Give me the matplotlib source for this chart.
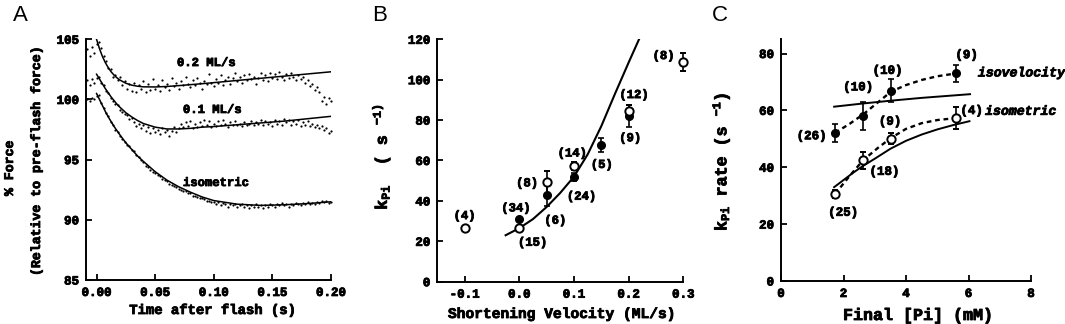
import numpy as np
import matplotlib
matplotlib.use('Agg')
import matplotlib.pyplot as plt
import matplotlib.patheffects as pe

plt.rcParams['font.family'] = ['Liberation Mono', 'DejaVu Sans Mono']
plt.rcParams['font.weight'] = 'bold'
plt.rcParams['axes.unicode_minus'] = False
plt.rcParams['mathtext.fontset'] = 'custom'
plt.rcParams['mathtext.rm'] = 'Liberation Mono:bold'
plt.rcParams['mathtext.it'] = 'Liberation Mono:bold'
plt.rcParams['mathtext.bf'] = 'Liberation Mono:bold'

# ---------------- Panel A data ----------------
t_trace = np.round(np.arange(-0.008, 0.2001, 0.002), 3)
force_02 = [104.2, 103.6, 104.4, 103.9, 104.6, 104.8, 104.3, 103.6, 103.2, 102.6,
            102.5, 101.9, 102.0, 101.6, 101.9, 101.2, 101.5, 100.9, 101.3, 100.7,
            101.4, 100.6, 101.2, 100.9, 101.5, 100.6, 101.3, 100.8, 101.7, 100.9,
            101.2, 100.7, 101.6, 101.0, 101.3, 100.8, 101.8, 101.1, 101.4, 100.9,
            101.5, 101.2, 101.9, 101.3, 101.0, 101.6, 101.2, 101.8, 101.4, 100.9,
            101.5, 101.3, 102.1, 101.4, 101.1, 101.7, 101.4, 102.0, 101.2, 101.6,
            101.9, 101.3, 101.8, 102.2, 101.5, 101.9, 101.4, 102.0, 101.6, 102.1,
            101.7, 101.9, 101.3, 101.8, 102.2, 101.6, 102.0, 101.5, 102.2, 101.8,
            102.1, 101.7, 102.3, 101.9, 101.6, 102.1, 101.8, 102.2, 101.9, 101.6,
            102.0, 101.7, 101.9, 101.4, 101.6, 101.1, 101.3, 100.8, 101.0, 100.6,
            99.9, 100.2, 99.6, 100.1, 99.9]
force_01 = [101.6, 101.2, 101.7, 101.4, 101.8, 101.9, 101.4, 101.2, 100.7, 100.5,
            100.1, 99.9, 99.6, 99.5, 99.1, 99.0, 98.8, 98.7, 98.4, 98.5,
            98.1, 97.8, 98.0, 97.6, 97.9, 97.4, 97.7, 97.2, 97.6, 97.3,
            97.5, 97.1, 97.6, 97.3, 97.5, 97.0, 97.4, 97.7, 97.3, 97.6,
            98.0, 97.7, 98.1, 97.8, 98.2, 97.6, 98.0, 97.7, 98.1, 97.8,
            98.3, 97.9, 98.2, 97.7, 98.0, 97.8, 98.2, 97.9, 98.3, 98.0,
            97.7, 98.1, 97.9, 98.2, 97.9, 98.0, 97.8, 98.1, 97.9, 98.0,
            98.2, 97.9, 98.1, 98.0, 98.3, 97.9, 98.2, 98.0, 98.1, 97.8,
            98.3, 98.0, 98.2, 97.9, 98.4, 98.1, 98.3, 97.9, 98.2, 98.0,
            98.3, 97.8, 98.1, 97.9, 98.2, 97.8, 98.0, 97.7, 97.9, 97.6,
            97.8, 97.5, 97.6, 97.2, 97.4]
force_iso = [100.0, 99.9, 100.1, 100.0, 100.3, 100.4, 99.7, 99.3, 98.9, 98.6,
             98.1, 97.9, 97.5, 97.3, 97.0, 96.7, 96.5, 96.2, 96.1, 95.8,
             95.7, 95.4, 95.2, 95.0, 94.8, 94.5, 94.4, 94.1, 94.0, 93.9,
             93.7, 93.6, 93.4, 93.3, 93.2, 93.0, 92.9, 92.8, 92.7, 92.6,
             92.5, 92.4, 92.4, 92.2, 92.2, 92.0, 92.0, 91.9, 91.8, 91.8,
             91.7, 91.6, 91.6, 91.5, 91.5, 91.3, 91.5, 91.2, 91.4, 91.3,
             91.1, 91.3, 91.2, 91.3, 91.1, 91.2, 91.3, 91.1, 91.2, 91.0,
             91.2, 91.1, 91.3, 91.1, 91.2, 91.0, 91.2, 91.1, 91.3, 91.2,
             91.1, 91.3, 91.2, 91.4, 91.2, 91.3, 91.1, 91.3, 91.2, 91.4,
             91.3, 91.2, 91.4, 91.3, 91.5, 91.3, 91.4, 91.3, 91.5, 91.4,
             91.6, 91.5, 91.6, 91.4, 91.5]

fit_t = [0.0, 0.0025, 0.005, 0.0075, 0.01, 0.0125, 0.015, 0.0175, 0.02, 0.025,
         0.03, 0.035, 0.04, 0.05, 0.06, 0.07, 0.08, 0.09, 0.10, 0.12,
         0.14, 0.16, 0.18, 0.20]
fit_02 = [105.0, 104.22, 103.58, 103.06, 102.64, 102.29, 102.02, 101.79, 101.61, 101.35,
          101.19, 101.10, 101.05, 101.04, 101.08, 101.15, 101.23, 101.31, 101.40, 101.58,
          101.76, 101.94, 102.12, 102.30]
fit_01 = [102.1, 101.7, 101.3, 100.9, 100.55, 100.2, 99.9, 99.6, 99.35, 98.9,
          98.55, 98.25, 98.0, 97.7, 97.55, 97.55, 97.6, 97.7, 97.75, 97.9,
          98.05, 98.2, 98.4, 98.6]
fit_iso = [100.5, 100.0, 99.5, 99.0, 98.55, 98.15, 97.75, 97.4, 97.05, 96.4,
           95.85, 95.3, 94.85, 94.0, 93.3, 92.75, 92.3, 91.9, 91.6, 91.3,
           91.2, 91.25, 91.35, 91.5]

# ---------------- Panel B data ----------------
vel_open = [-0.1, 0.0, 0.05, 0.1, 0.2, 0.3]
k_open = [26.7, 26.5, 49.2, 57.3, 84.5, 108.9]
err_open = [0.0, 1.0, 5.6, 2.2, 3.0, 4.4]
vel_fill = [0.0, 0.05, 0.1, 0.15, 0.2]
k_fill = [30.9, 42.9, 51.8, 67.8, 82.2]
err_fill = [0.8, 5.4, 2.0, 3.4, 5.5]
curve_vel = [-0.025, 0.0, 0.025, 0.05, 0.075, 0.1, 0.125, 0.15, 0.175, 0.2, 0.219]
curve_k = [23.0, 26.5, 31.0, 37.0, 44.0, 52.0, 63.0, 77.0, 93.0, 108.5, 120.0]
b_labels = ['(4)', '(34)', '(15)', '(8)', '(6)', '(14)', '(24)', '(5)', '(12)', '(9)', '(8)']
b_lab_x = [-0.1, -0.006, 0.0245, 0.0144, 0.066, 0.097, 0.114, 0.151, 0.21, 0.203, 0.264]
b_lab_y = [32.5, 36.3, 19.3, 48.7, 30.2, 63.5, 42.1, 57.8, 92.4, 71.0, 111.7]

# ---------------- Panel C data ----------------
pi_pts = [1.73, 2.63, 3.52, 5.6]
k_isovel = [52.1, 58.0, 66.9, 73.0]
err_isovel = [3.1, 5.0, 4.0, 3.0]
k_isom = [30.6, 42.5, 50.1, 57.3]
err_isom = [1.5, 3.0, 2.0, 3.8]
dash_pi = [1.73, 2.2, 2.63, 3.1, 3.52, 4.0, 4.5, 5.0, 5.6]
dash_isovel = [52.1, 55.3, 58.6, 62.8, 66.6, 68.9, 70.7, 72.0, 73.0]
dash_isom = [30.6, 37.0, 42.5, 46.8, 50.3, 53.5, 55.5, 56.6, 57.3]
line_pi = [1.7, 2.6, 3.5, 4.5, 6.05]
line_isovel = [61.3, 62.4, 63.4, 64.4, 65.7]
fit_pi = [1.7, 2.0, 2.3, 2.6, 3.0, 3.5, 4.0, 4.5, 5.0, 5.5, 6.03]
fit_isom = [33.0, 35.5, 38.0, 40.3, 43.0, 46.5, 49.3, 51.5, 53.3, 54.8, 56.2]
c_labels = ['(26)', '(10)', '(10)', '(9)', '(9)', '(18)', '(25)', '(4)']
c_lab_x = [0.98, 2.47, 3.41, 5.94, 3.49, 3.31, 1.99, 6.1]
c_lab_y = [50.9, 68.1, 73.9, 79.4, 56.0, 38.4, 24.0, 59.8]

W, H = 1065, 324
fig = plt.figure(figsize=(W / 100, H / 100), dpi=100)
BOLD = [pe.withStroke(linewidth=0.6, foreground='black')]


def rect(l, r, t, b):
    return [l / W, (H - b) / H, (r - l) / W, (b - t) / H]


def ftext(x, y, s, **kw):
    kw.setdefault('fontweight', 'bold')
    kw.setdefault('ha', 'center')
    kw.setdefault('va', 'center')
    return fig.text(x / W, 1 - y / H, s, path_effects=BOLD, **kw)


def style(ax, fs=9):
    for s in ['top', 'right']:
        ax.spines[s].set_visible(False)
    for s in ['left', 'bottom']:
        ax.spines[s].set_linewidth(1.4)
    ax.tick_params(direction='in', length=4, width=1.3, labelsize=fs, pad=5)
    for lab in ax.get_xticklabels() + ax.get_yticklabels():
        lab.set_fontweight('bold')
        lab.set_path_effects(BOLD)


# ---- A ----
axA = fig.add_axes(rect(86, 331, 39.3, 280))
for f in (force_02, force_01, force_iso):
    axA.plot(t_trace, f, 'o', color='black', ms=1.6, mew=0, clip_on=False)
for f in (fit_02, fit_01, fit_iso):
    axA.plot(fit_t, f, '-', color='black', lw=1.1)
axA.set_xlim(-0.009, 0.2)
axA.set_ylim(85, 105)
axA.set_xticks([0.0, 0.05, 0.10, 0.15, 0.20])
axA.set_xticklabels(['0.00', '0.05', '0.10', '0.15', '0.20'])
axA.set_yticks([85, 90, 95, 100, 105])
style(axA)
for x, y, s in ((0.0686, 103.03, '0.2 ML/s'), (0.0737, 99.13, '0.1 ML/s'), (0.0737, 93.06, 'isometric')):
    axA.text(x, y, s, fontsize=8.8, fontweight='bold', va='center', ha='left', path_effects=BOLD)
ftext(213, 310, 'Time after flash (s)', fontsize=10)
ftext(10, 168, '% Force', rotation=90, fontsize=9.5)
ftext(37, 160, '(Relative to pre-flash force)', rotation=90, fontsize=9.5)

# ---- B ----
axB = fig.add_axes(rect(437.3, 683.3, 39.3, 281.7))
axB.plot(curve_vel, curve_k, '-', color='black', lw=1.5)
axB.errorbar(vel_fill, k_fill, yerr=err_fill, fmt='o', color='black', mfc='black', mec='black',
             ms=5.5, capsize=2.5, elinewidth=1.2, capthick=1.2, clip_on=False, zorder=3)
axB.errorbar(vel_open, k_open, yerr=err_open, fmt='o', color='black', mfc='white', mec='black',
             mew=1.4, ms=6, capsize=2.5, elinewidth=1.2, capthick=1.2, clip_on=False, zorder=4)
for s, x, y in zip(b_labels, b_lab_x, b_lab_y):
    axB.text(x, y, s, fontsize=8.8, fontweight='bold', ha='center', va='center', path_effects=BOLD)
axB.set_xlim(-0.15, 0.3)
axB.set_ylim(0, 120)
axB.set_xticks([-0.1, 0.0, 0.1, 0.2, 0.3])
axB.set_xticklabels(['-0.1', '0.0', '0.1', '0.2', '0.3'])
axB.set_yticks([0, 20, 40, 60, 80, 100, 120])
style(axB)
ftext(561.7, 314, 'Shortening Velocity (ML/s)', fontsize=10.5)
ftext(381, 157, r'k$_{\mathrm{Pi}}$  ( s $^{\mathrm{-1)}}$', rotation=90, fontsize=12)

# ---- C ----
axC = fig.add_axes(rect(781, 1031, 39.3, 281))
axC.plot(dash_pi, dash_isovel, color='black', lw=1.7, dashes=(2, 1.6))
axC.plot(dash_pi, dash_isom, color='black', lw=1.7, dashes=(2, 1.6))
axC.plot(line_pi, line_isovel, '-', color='black', lw=1.4)
axC.plot(fit_pi, fit_isom, '-', color='black', lw=1.4)
axC.errorbar(pi_pts, k_isovel, yerr=err_isovel, fmt='o', color='black', mfc='black', mec='black',
             ms=5.5, capsize=2.5, elinewidth=1.2, capthick=1.2, zorder=3)
axC.errorbar(pi_pts, k_isom, yerr=err_isom, fmt='o', color='black', mfc='white', mec='black',
             mew=1.4, ms=6, capsize=2.5, elinewidth=1.2, capthick=1.2, zorder=4)
for s, x, y in zip(c_labels, c_lab_x, c_lab_y):
    axC.text(x, y, s, fontsize=9, fontweight='bold', ha='center', va='center', path_effects=BOLD)
axC.text(6.30, 73.0, 'isovelocity', fontsize=9.5, fontweight='bold', fontstyle='italic',
         ha='left', va='center', path_effects=BOLD)
axC.text(6.53, 59.5, 'isometric', fontsize=9.5, fontweight='bold', fontstyle='italic',
         ha='left', va='center', path_effects=BOLD)
axC.set_xlim(0, 8)
axC.set_ylim(0, 85)
axC.set_xticks([0, 2, 4, 6, 8])
axC.set_yticks([0, 20, 40, 60, 80])
style(axC)
ftext(918, 315.5, 'Final [Pi] (mM)', fontsize=12)
ftext(721, 162, r'k$_{\mathrm{Pi}}$ rate (s $^{\mathrm{-1}}$)', rotation=90, fontsize=12)

for letter, x in (('A', 12.7), ('B', 372), ('C', 712)):
    fig.text(x / W, 1 - 15.5 / H, letter, fontsize=16, family='Liberation Sans', fontweight='normal',
             ha='left', va='center')

fig.savefig('out.png', dpi=100)
